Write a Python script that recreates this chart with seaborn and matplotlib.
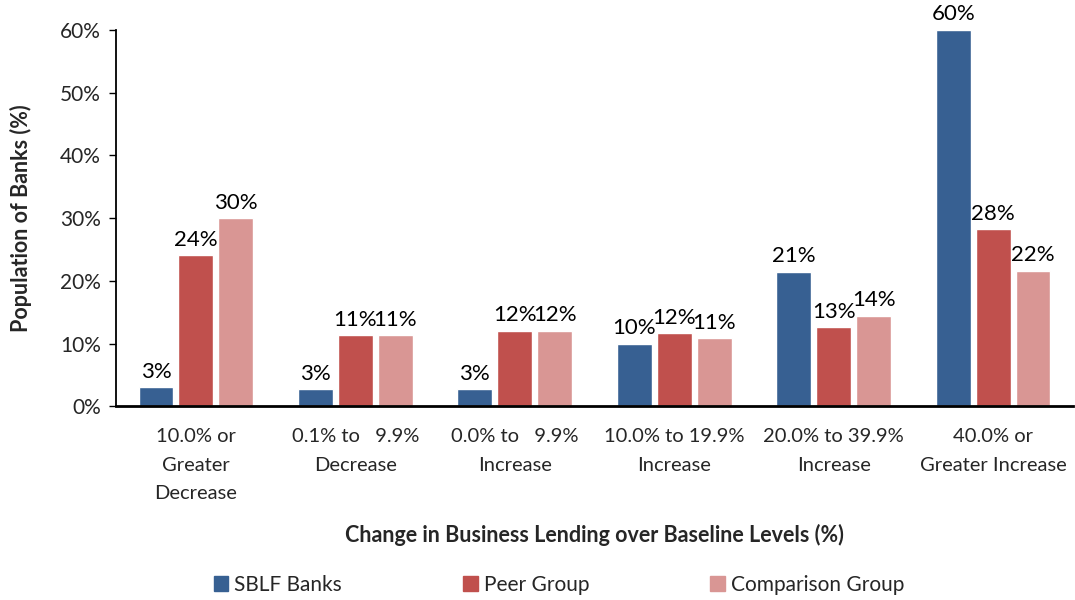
import pandas as pd
import matplotlib
matplotlib.use("Agg")
import matplotlib.pyplot as plt
from matplotlib.ticker import PercentFormatter
import seaborn as sns

categories = [
    "10.0% or\nGreater\nDecrease",
    "0.1% to   9.9%\nDecrease",
    "0.0% to   9.9%\nIncrease",
    "10.0% to 19.9%\nIncrease",
    "20.0% to 39.9%\nIncrease",
    "40.0% or\nGreater Increase",
]
groups = ["SBLF Banks", "Peer Group", "Comparison Group"]
sblf_banks = [3.0, 2.7, 2.7, 10.0, 21.4, 60.0]
peer_group = [24.1, 11.3, 12.0, 11.6, 12.6, 28.2]
comparison_group = [30.0, 11.3, 12.0, 10.8, 14.4, 21.6]
colors = ["#376092", "#C0504D", "#D99694"]

df = pd.DataFrame({
    "category": categories * 3,
    "group": [g for g in groups for _ in categories],
    "value": sblf_banks + peer_group + comparison_group,
})

sns.set_style("white")
plt.rcParams["font.family"] = ["Lato", "DejaVu Sans"]

fig, ax = plt.subplots(figsize=(10.75, 6), dpi=100)
fig.subplots_adjust(left=0.108, right=0.998, top=0.95, bottom=0.323)

sns.barplot(data=df, x="category", y="value", hue="group", order=categories,
            hue_order=groups, palette=colors, width=0.75, gap=0.125,
            edgecolor="white", linewidth=1, saturation=1, legend=False, ax=ax)

for cont in ax.containers:
    ax.bar_label(cont, labels=[f"{b.get_height():.0f}%" for b in cont],
                 padding=4, fontsize=16, color="black")

ax.set_ylim(0, 60)
ax.set_xlim(-0.5, len(categories) - 0.5)
ax.set_yticks(range(0, 61, 10))
ax.yaxis.set_major_formatter(PercentFormatter(decimals=0))
ax.set_xticks(range(len(categories)))
ax.set_xticklabels(categories, fontsize=14.5, linespacing=1.8)
ax.set_xticks([i + 0.5 for i in range(len(categories) - 1)], minor=True)
ax.tick_params(axis="x", which="major", length=0, pad=16)
ax.tick_params(axis="x", which="minor", length=6, width=1, color="black", direction="out")
ax.tick_params(axis="y", length=5, width=1, color="black", direction="out",
               labelsize=15, left=True, pad=6)

for s in ["top", "right"]:
    ax.spines[s].set_visible(False)
ax.spines["left"].set_color("black")
ax.spines["left"].set_linewidth(1.3)
ax.spines["bottom"].set_color("black")
ax.spines["bottom"].set_linewidth(2)

ax.set_ylabel("Population of Banks (%)", fontsize=15.5, fontweight="bold", labelpad=20)
ax.set_xlabel("Change in Business Lending over Baseline Levels (%)", fontsize=15.5,
              fontweight="bold", labelpad=16)

handles = [plt.Rectangle((0, 0), 1, 1, color=c) for c in colors]
fig.legend(handles, groups, loc="center", bbox_to_anchor=(0.52, 0.025), ncol=3,
           frameon=False, fontsize=15, handlelength=0.7, handleheight=0.7,
           handletextpad=0.3, columnspacing=5.8)

plt.savefig("out.png", dpi=100)
plt.close()
